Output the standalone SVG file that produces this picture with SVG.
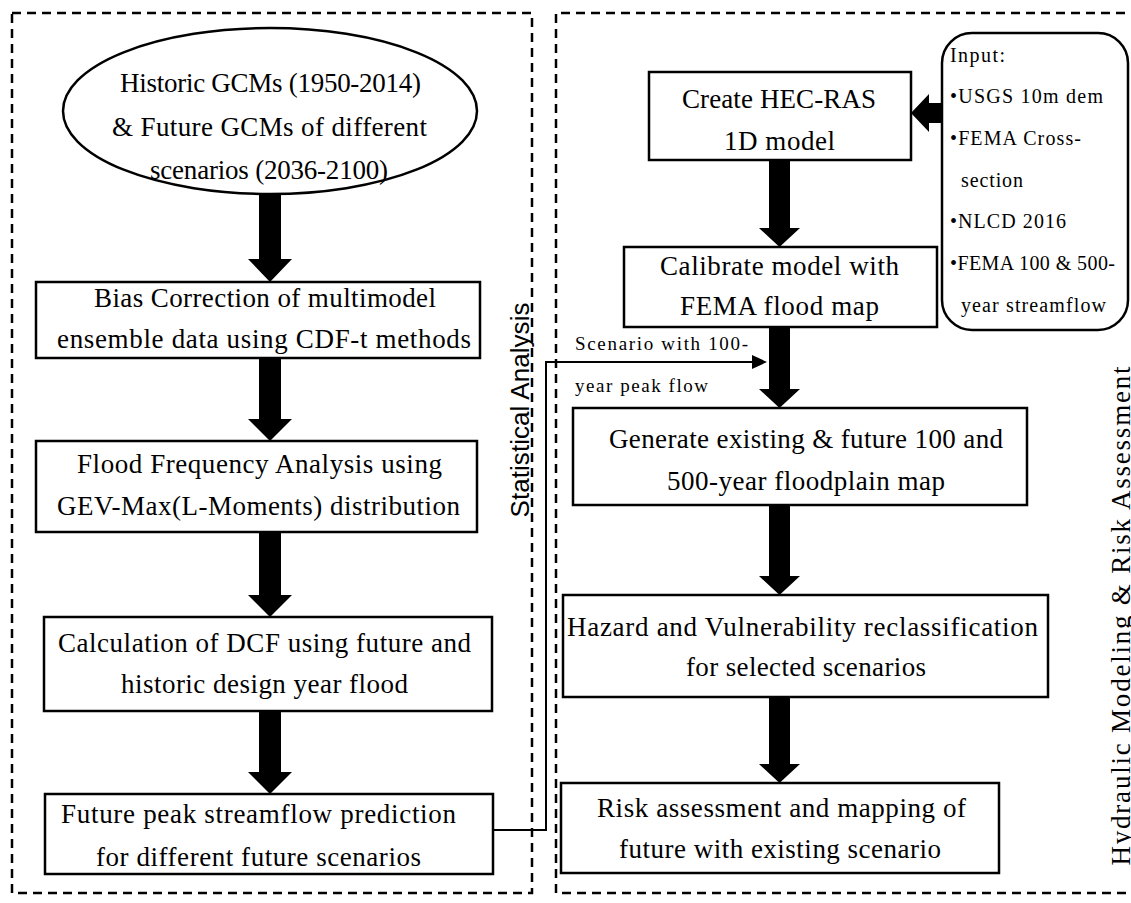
<svg xmlns="http://www.w3.org/2000/svg" width="1131" height="903" viewBox="0 0 1131 903">
<style>
.dash{fill:none;stroke:#000;stroke-width:2.5;stroke-dasharray:9 6}
.box{fill:#fff;stroke:#000;stroke-width:2.5}
.t{font-family:"Liberation Serif","Times New Roman",serif;font-size:27px;fill:#000}
.s{font-family:"Liberation Serif","Times New Roman",serif;font-size:20px;fill:#000}
.lbl{font-family:"Liberation Serif","Times New Roman",serif;font-size:19px;fill:#000}
.sans{font-family:"Liberation Sans",Arial,sans-serif;font-size:26px;fill:#000}
.arr{fill:#000;stroke:none}
.ln{fill:none;stroke:#000;stroke-width:2}
</style>
<rect width="1131" height="903" fill="#fff"/>
<g id="group-statistical">
<rect class="dash" x="12" y="13" width="520" height="880"/>
<text class="sans" transform="translate(529,410) rotate(-90)" text-anchor="middle" textLength="215">Statistical Analysis</text>
</g>
<g id="group-hydraulic">
<path class="dash" d="M1140 13 H556 V893 H1140"/>
<text class="t" style="font-size:27px" transform="translate(1130,616) rotate(-90)" text-anchor="middle" textLength="499">Hydraulic Modeling &amp; Risk Assessment</text>
</g>
<g id="connectors">
<polygon class="arr" points="259,194 281,194 281,259 292,259 270,282 248,259 259,259"/>
<polygon class="arr" points="259,358 281,358 281,419 292,419 270,441 248,419 259,419"/>
<polygon class="arr" points="259,532 281,532 281,595 292,595 270,617 248,595 259,595"/>
<polygon class="arr" points="259,711 281,711 281,772 292,772 270,794 248,772 259,772"/>
<polygon class="arr" points="769,160 790,160 790,228 800,228 779.5,247 759,228 769,228"/>
<polygon class="arr" points="769,327 790,327 790,389 800,389 779.5,408 759,389 769,389"/>
<polygon class="arr" points="769,505 790,505 790,576 800,576 779.5,595 759,576 769,576"/>
<polygon class="arr" points="769,697 790,697 790,764 800,764 779.5,783 759,764 769,764"/>
<polygon class="arr" points="943,103 929,103 929,94 911,113 929,132 929,123 943,123"/>
<path class="ln" d="M493 830 H546 V362 H754"/>
<polygon class="arr" points="752,355 767,362 752,369"/>
<text class="lbl" x="575" y="350" textLength="173">Scenario with 100-</text>
<text class="lbl" x="575" y="392" textLength="133">year peak flow</text>
</g>
<g id="node-gcm">
<ellipse class="box" cx="270" cy="111" rx="207" ry="83"/>
<text class="t" x="120" y="92" textLength="301">Historic GCMs (1950-2014)</text>
<text class="t" x="112" y="136" textLength="315">&amp; Future GCMs of different</text>
<text class="t" x="150" y="179" textLength="238">scenarios (2036-2100)</text>
</g>
<g id="node-bias">
<rect class="box" x="36" y="282" width="444" height="76"/>
<text class="t" x="94" y="307" textLength="342">Bias Correction of multimodel</text>
<text class="t" x="57" y="348" textLength="414">ensemble data using CDF-t methods</text>
</g>
<g id="node-ffa">
<rect class="box" x="36" y="441" width="441" height="91"/>
<text class="t" x="77" y="473" textLength="365">Flood Frequency Analysis using</text>
<text class="t" x="57" y="515" textLength="403">GEV-Max(L-Moments) distribution</text>
</g>
<g id="node-dcf">
<rect class="box" x="44" y="617" width="448" height="94"/>
<text class="t" x="58" y="652" textLength="413">Calculation of DCF using future and</text>
<text class="t" x="121" y="693" textLength="287">historic design year flood</text>
</g>
<g id="node-future">
<rect class="box" x="45" y="794" width="448" height="80"/>
<text class="t" x="61" y="823" textLength="395">Future peak streamflow prediction</text>
<text class="t" x="96" y="866" textLength="325">for different future scenarios</text>
</g>
<g id="node-input">
<rect class="box" x="942" y="33" width="186" height="297" rx="30" ry="30"/>
<text class="s" x="950" y="62" textLength="55">Input:</text>
<text class="s" x="950" y="103" textLength="153">•USGS 10m dem</text>
<text class="s" x="950" y="145" textLength="131">•FEMA Cross-</text>
<text class="s" x="961" y="187" textLength="62">section</text>
<text class="s" x="950" y="228" textLength="116">•NLCD 2016</text>
<text class="s" x="950" y="270" textLength="165">•FEMA 100 &amp; 500-</text>
<text class="s" x="961" y="312" textLength="145">year streamflow</text>
</g>
<g id="node-hecras">
<rect class="box" x="649" y="72" width="262" height="88"/>
<text class="t" x="682" y="108" textLength="194">Create HEC-RAS</text>
<text class="t" x="724" y="150" textLength="111">1D model</text>
</g>
<g id="node-calibrate">
<rect class="box" x="624" y="247" width="313" height="80"/>
<text class="t" x="660" y="275" textLength="239">Calibrate model with</text>
<text class="t" x="680" y="315" textLength="199">FEMA flood map</text>
</g>
<g id="node-generate">
<rect class="box" x="573" y="408" width="454" height="97"/>
<text class="t" x="609" y="448" textLength="394">Generate existing &amp; future 100 and</text>
<text class="t" x="667" y="490" textLength="278">500-year floodplain map</text>
</g>
<g id="node-hazard">
<rect class="box" x="563" y="595" width="485" height="102"/>
<text class="t" x="567" y="636" textLength="471">Hazard and Vulnerability reclassification</text>
<text class="t" x="686" y="676" textLength="240">for selected scenarios</text>
</g>
<g id="node-risk">
<rect class="box" x="561" y="783" width="438" height="90"/>
<text class="t" x="597" y="817" textLength="369">Risk assessment and mapping of</text>
<text class="t" x="619" y="858" textLength="322">future with existing scenario</text>
</g>
</svg>
